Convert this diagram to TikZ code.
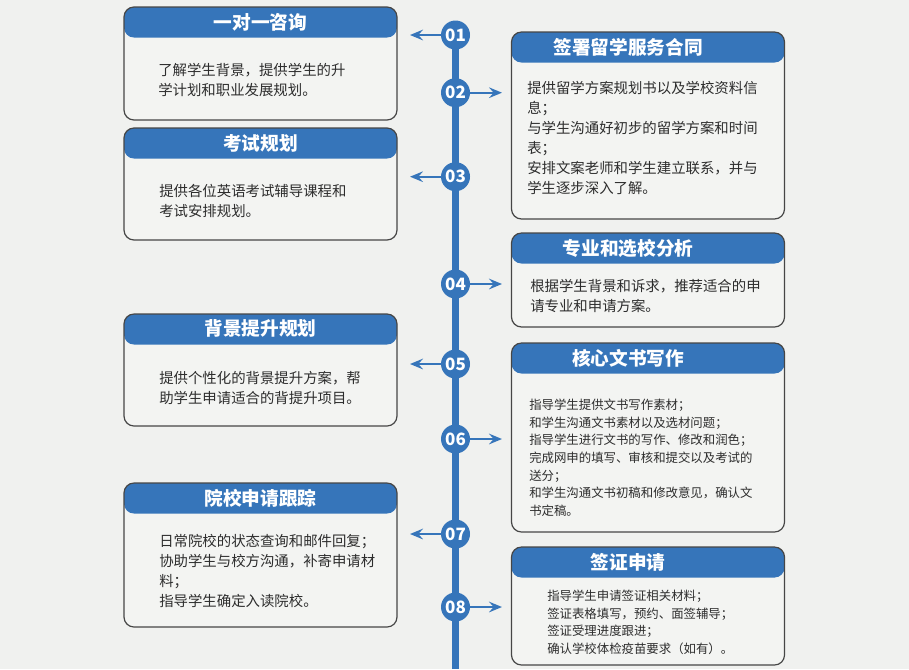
\documentclass[tikz,border=0pt]{standalone}
\usepackage{fontspec}
\setmainfont{Noto Sans CJK SC}
\usetikzlibrary{arrows.meta}

\definecolor{stepblue}{RGB}{54,117,186}
\definecolor{pagebg}{RGB}{240,241,239}
\definecolor{cardbg}{RGB}{243,244,242}
\definecolor{cardline}{RGB}{70,70,70}
\definecolor{bodytext}{RGB}{45,45,45}

\tikzset{
  card/.style={draw=cardline, line width=0.9pt, fill=cardbg, rounded corners=7.5pt,
    minimum width=204.75pt, minimum height={#1*0.75pt}, inner sep=0pt,
    path picture={\fill[stepblue] (path picture bounding box.north west)
      rectangle ([yshift=-22.9pt]path picture bounding box.north east);}},
  cardtitle/.style={text=white, inner sep=0pt, font=\bfseries\fontsize{14}{16}\selectfont},
  % anchored at the baseline of the last line
  body/.style={anchor=base west, align=left, inner sep=0pt, text=bodytext,
    font=\fontsize{10.8}{15}\selectfont},
  smallbody/.style={body, font=\fontsize{9.3}{13.2}\selectfont},
  num/.style={circle, fill=stepblue, minimum size=21.75pt, inner sep=0pt,
    text=white, font=\bfseries\fontsize{12.75}{14}\selectfont},
  spine/.style={stepblue, line width=5.6pt},
  arr/.style={stepblue, line width=1.5pt, -{Stealth[length=9.75pt, width=8pt, inset=3.5pt]}}
}

\begin{document}
\begin{tikzpicture}[x=0.75pt, y=-0.75pt]
  \fill[pagebg] (0,0) rectangle (909,669);
  \useasboundingbox (0,0) rectangle (909,669);

  % timeline
  \coordinate (top) at (455.5,35);
  \coordinate (bot) at (455.5,669);
  \draw[spine] (top) -- (bot);

  % left column
  \node[card=113] (b1) at (260.5,63.5) {};
  \node[cardtitle] (t1) at (260.5,22.5) {一对一咨询};
  \node[body] (x1) at (158,95.3) {了解学生背景，提供学生的升\\学计划和职业发展规划。};

  \node[card=112] (b3) at (260.5,184) {};
  \node[cardtitle] (t3) at (260.5,143.5) {考试规划};
  \node[body] (x3) at (159,216.3) {提供各位英语考试辅导课程和\\考试安排规划。};

  \node[card=112] (b5) at (260.5,370) {};
  \node[cardtitle] (t5) at (260.5,328.5) {背景提升规划};
  \node[body] (x5) at (159,403.3) {提供个性化的背景提升方案，帮\\助学生申请适合的背提升项目。};

  \node[card=144] (b7) at (260.5,555) {};
  \node[cardtitle] (t7) at (260.5,498) {院校申请跟踪};
  \node[body] (x7) at (159,606.3) {日常院校的状态查询和邮件回复；\\协助学生与校方沟通，补寄申请材\\料；\\指导学生确定入读院校。};

  % right column
  \node[card=187] (b2) at (648,125.5) {};
  \node[cardtitle] (t2) at (628,47) {签署留学服务合同};
  \node[body] (x2) at (527,193.3) {提供留学方案规划书以及学校资料信\\息；\\与学生沟通好初步的留学方案和时间\\表；\\安排文案老师和学生建立联系，并与\\学生逐步深入了解。};

  \node[card=94] (b4) at (648,280) {};
  \node[cardtitle] (t4) at (628,248) {专业和选校分析};
  \node[body] (x4) at (530,311.3) {根据学生背景和诉求，推荐适合的申\\请专业和申请方案。};

  \node[card=189] (b6) at (648,437.5) {};
  \node[cardtitle] (t6) at (628,358.5) {核心文书写作};
  \node[smallbody] (x6) at (529,515.3) {指导学生提供文书写作素材；\\和学生沟通文书素材以及选材问题；\\指导学生进行文书的写作、修改和润色；\\完成网申的填写、审核和提交以及考试的\\送分；\\和学生沟通文书初稿和修改意见，确认文\\书定稿。};

  \node[card=118] (b8) at (648,606) {};
  \node[cardtitle] (t8) at (628,562) {签证申请};
  \node[smallbody] (x8) at (547,653.5) {指导学生申请签证相关材料；\\签证表格填写，预约、面签辅导；\\签证受理进度跟进；\\确认学校体检疫苗要求（如有）。};

  % step numbers and pointers
  \foreach \n/\y/\tx in {01/35/410, 02/92.7/502, 03/176.7/410, 04/284/502,
                         05/364/410, 06/439/502, 07/534/410, 08/607/502} {
    \node[num] (c\n) at (455.5,\y) {\n};
    \coordinate (a\n) at (\tx,\y);
    \draw[arr] (c\n) -- (a\n);
  }
\end{tikzpicture}
\end{document}
